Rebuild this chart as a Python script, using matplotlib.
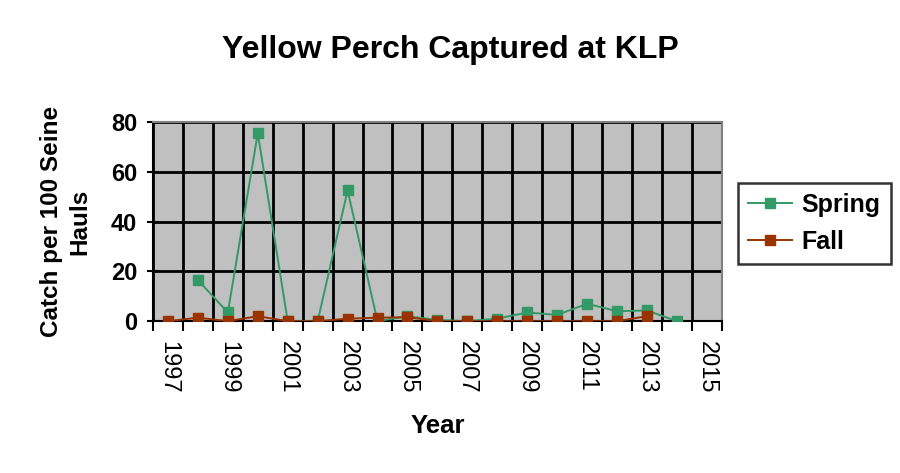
import numpy as np
import matplotlib
matplotlib.use("Agg")
import matplotlib.pyplot as plt

plt.rcParams["font.family"] = ["Liberation Sans", "DejaVu Sans"]

# Data (nan = no sample)
years = list(range(1997, 2016))
spring = [np.nan, 16.5, 3.5, 75.5, 0, 0, 52.5, 0, 2, 0.5, 0, 1, 3.5, 2.5, 7, 4, 4.3, 0, np.nan]
fall = [0, 1.4, 0, 2, 0, 0, 1, 1.4, 1.6, 0, 0, 0, 0, 0, 0, 0, 2, np.nan, np.nan]

green = "#339966"
brown = "#993300"

fig = plt.figure(figsize=(9, 4.73), dpi=100)
ax = fig.add_axes([0.17, 0.321, 0.632, 0.421])
ax.set_facecolor("#c0c0c0")

x = np.arange(len(years))
ax.plot(x, spring, color=green, lw=1.4, marker="s", ms=7.5, label="Spring", zorder=3)
ax.plot(x, fall, color=brown, lw=1.4, marker="s", ms=7.5, label="Fall", zorder=4)

# axes, ticks and grid
ax.set_xlim(-0.5, len(years) - 0.5)
ax.set_ylim(0, 80)
ax.set_yticks([0, 20, 40, 60, 80])
ax.set_xticks(x[::2])
ax.set_xticklabels([str(y) for y in years[::2]], rotation=270, fontsize=17)
ax.set_xticks(np.arange(-0.5, len(years), 1), minor=True)
ax.tick_params(axis="x", which="major", length=0, pad=14)
ax.tick_params(axis="x", which="minor", length=7, width=1.5, direction="out")
ax.tick_params(axis="y", length=9, width=1.5, direction="inout", pad=7)
for lab in ax.get_yticklabels():
    lab.set_fontsize(17)
    lab.set_fontweight("bold")
ax.grid(which="minor", axis="x", color="black", lw=2)
ax.grid(which="major", axis="y", color="black", lw=2)
ax.set_axisbelow(True)
for s in ["top", "right"]:
    ax.spines[s].set_color("#808080")
    ax.spines[s].set_linewidth(1.5)
for s in ["left", "bottom"]:
    ax.spines[s].set_color("black")
    ax.spines[s].set_linewidth(1.5)

ax.set_xlabel("Year", fontsize=18.5, fontweight="bold", labelpad=15)
ax.set_ylabel("Catch per 100 Seine\nHauls", fontsize=17.5, fontweight="bold", labelpad=14,
              linespacing=1.3)
fig.suptitle("Yellow Perch Captured at KLP", fontsize=23, fontweight="bold", y=0.925)

leg = fig.legend(loc="upper left", bbox_to_anchor=(0.82, 0.613), fontsize=18,
                 frameon=True, fancybox=False, handlelength=1.75, borderpad=0.4,
                 labelspacing=0.5, handletextpad=0.4, borderaxespad=0)
leg.get_frame().set_edgecolor("black")
leg.get_frame().set_linewidth(1.8)
for t in leg.get_texts():
    t.set_fontweight("bold")

fig.savefig("out.png", dpi=100, facecolor="white")
